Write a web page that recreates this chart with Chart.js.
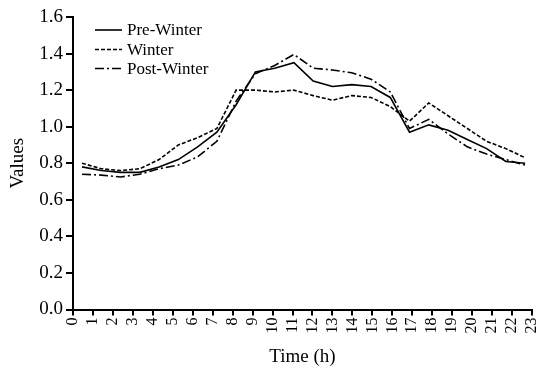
<!DOCTYPE html>
<html>
<head>
<meta charset="utf-8">
<script src="https://cdn.jsdelivr.net/npm/chart.js@4/dist/chart.umd.min.js"></script>
<style>
  html, body { margin: 0; padding: 0; background: #fff; }
  #wrap { width: 539px; height: 368px; position: relative; }
</style>
</head>
<body>
<div id="wrap"><canvas id="c" width="539" height="368"></canvas></div>
<script>
// ---- data ----
const hours = [0,1,2,3,4,5,6,7,8,9,10,11,12,13,14,15,16,17,18,19,20,21,22,23];
const preWinter  = [0.78,0.76,0.75,0.75,0.78,0.82,0.89,0.97,1.12,1.30,1.32,1.35,1.25,1.22,1.23,1.22,1.16,0.97,1.01,0.98,0.93,0.88,0.81,0.80];
const winter     = [0.80,0.77,0.76,0.77,0.82,0.90,0.94,0.99,1.20,1.20,1.19,1.20,1.17,1.145,1.17,1.16,1.11,1.03,1.13,1.06,0.99,0.92,0.88,0.83];
const postWinter = [0.74,0.735,0.725,0.74,0.77,0.79,0.835,0.92,1.14,1.29,1.335,1.395,1.32,1.31,1.295,1.26,1.19,0.99,1.04,0.96,0.89,0.85,0.82,0.79];
const seriesNames = ['Pre-Winter', 'Winter', 'Post-Winter'];
const xTickLabels = ['0','1','2','3','4','5','6','7','8','9','10','11','12','13','14','15','16','17','18','19','20','21','22','23'];
const yTickLabels = ['0.0','0.2','0.4','0.6','0.8','1.0','1.2','1.4','1.6'];

const FONT = "'Liberation Serif', 'Times New Roman', serif";
const toXY = arr => arr.map((v, i) => ({ x: hours[i], y: v }));

const dashes = [[], [4, 2], [9, 3, 2, 3]];

const legendInside = {
  id: 'legendInside',
  afterDraw(chart) {
    const ctx = chart.ctx;
    const x0 = 95, x1 = 122, tx = 127;
    const rows = [30, 49.5, 68.5];
    ctx.save();
    ctx.font = '17px ' + FONT;
    ctx.fillStyle = '#000';
    ctx.textBaseline = 'middle';
    chart.data.datasets.forEach((ds, i) => {
      ctx.strokeStyle = '#000';
      ctx.lineWidth = 1.6;
      ctx.setLineDash(ds.borderDash || []);
      ctx.beginPath();
      ctx.moveTo(x0, rows[i]);
      ctx.lineTo(x1, rows[i]);
      ctx.stroke();
      ctx.setLineDash([]);
      ctx.fillText(ds.label, tx, rows[i] + 1);
    });
    ctx.restore();
  }
};

const mk = (label, arr, i) => ({
  label, data: toXY(arr), xAxisID: 'xd', yAxisID: 'y',
  borderColor: '#000', backgroundColor: '#000', borderWidth: 1.6,
  borderDash: dashes[i], pointRadius: 0, tension: 0, fill: false
});

new Chart(document.getElementById('c'), {
  type: 'line',
  data: {
    datasets: [
      mk(seriesNames[0], preWinter, 0),
      mk(seriesNames[1], winter, 1),
      mk(seriesNames[2], postWinter, 2)
    ]
  },
  plugins: [legendInside],
  options: {
    responsive: false,
    animation: false,
    devicePixelRatio: 1,
    layout: { padding: { top: 17, right: 7, left: 0, bottom: 0 } },
    plugins: { legend: { display: false }, tooltip: { enabled: false } },
    scales: {
      xd: {
        type: 'linear', display: false, min: -0.467, max: 23.357
      },
      x: {
        type: 'linear', position: 'bottom', min: 0, max: 23,
        afterFit(s) { s.height = 58.5; s.paddingRight = 0; s.paddingLeft = 0; },
        ticks: {
          stepSize: 1, autoSkip: false, minRotation: 90, maxRotation: 90,
          color: '#000', padding: 2,
          font: { family: FONT, size: 16 },
          callback: (v) => xTickLabels[v]
        },
        grid: { drawOnChartArea: false, tickLength: 6, lineWidth: 2, color: '#000' },
        border: { display: true, width: 2, color: '#000' },
        title: { display: true, text: 'Time (h)', color: '#000',
                 font: { family: FONT, size: 19 }, padding: { top: 1, bottom: 0 } }
      },
      y: {
        type: 'linear', min: 0, max: 1.6,
        afterFit(s) { s.width = 73; s.paddingTop = 0; s.paddingBottom = 0; },
        ticks: {
          stepSize: 0.2, color: '#000', padding: 3,
          font: { family: FONT, size: 19 },
          callback: (v) => yTickLabels[Math.round(v / 0.2)]
        },
        grid: { drawOnChartArea: false, tickLength: 7, lineWidth: 2, color: '#000' },
        border: { display: true, width: 2, color: '#000' },
        title: { display: true, text: 'Values', color: '#000',
                 font: { family: FONT, size: 19 }, padding: { top: 7, bottom: 0 } }
      }
    }
  }
});
</script>
</body>
</html>
